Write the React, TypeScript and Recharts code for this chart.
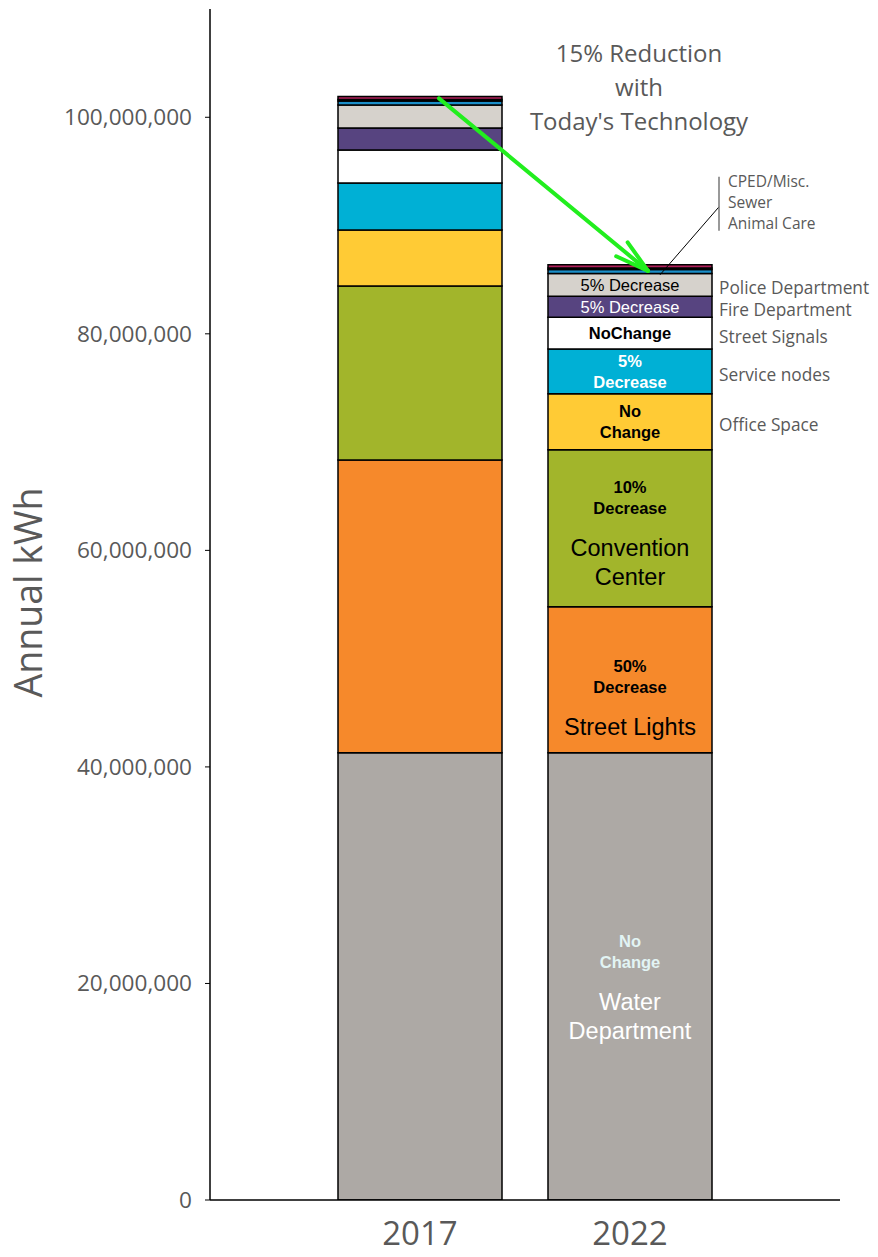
import { Bar, BarChart, Label, LabelList, ReferenceLine, XAxis, YAxis } from 'recharts';

const years = ['2017', '2022'];
const segments = [
  'Water Department',
  'Street Lights',
  'Convention Center',
  'Office Space',
  'Service nodes',
  'Street Signals',
  'Fire Department',
  'Police Department',
  'Animal Care',
  'Sewer',
  'CPED/Misc.',
];
const kwh2017 = [41300000, 27050000, 16070000, 5170000, 4340000, 3050000, 2030000, 2120000, 380000, 120000, 300000];
const kwh2022 = [41300000, 13500000, 14500000, 5170000, 4120000, 2950000, 1930000, 2100000, 380000, 120000, 300000];
const changeNotes = ['No\nChange', '50%\nDecrease', '10%\nDecrease', 'No\nChange', '5%\nDecrease', 'NoChange', '5% Decrease', '5% Decrease', '', '', ''];
const insideNames = ['Water\nDepartment', 'Street Lights', 'Convention\nCenter', '', '', '', '', '', '', '', ''];
const sideNames = ['', '', '', 'Office Space', 'Service nodes', 'Street Signals', 'Fire Department', 'Police Department', '', '', ''];
const smallGroup = ['CPED/Misc.', 'Sewer', 'Animal Care'];
const yTicks = [0, 20000000, 40000000, 60000000, 80000000, 100000000];
const titleLines = ['15% Reduction', 'with', "Today's Technology"];

const colors = ['#ADA9A5', '#F6892B', '#A2B52B', '#FFCB35', '#00B0D5', '#FFFFFF', '#574480', '#D6D2CC', '#1B8FC9', '#3C3C64', '#B0205A'];
const noteColors = ['#E2F4F4', '#000', '#000', '#000', '#FFFFFF', '#000', '#FFFFFF', '#000', '#000', '#000', '#000'];
const noteBold = [true, true, true, true, true, true, false, false, false, false, false];
const nameColors = ['#FFFFFF', '#000', '#000'];
const nameNudge = [10, 17, 4];

const GRAY = '#595959';
const SANS = "'Open Sans', 'Noto Sans', sans-serif";
const ARIAL = "'Liberation Sans', Arial, sans-serif";

const data = years.map((year, i) => {
  const row: Record<string, string | number> = { year };
  const vals = i === 0 ? kwh2017 : kwh2022;
  vals.forEach((v, j) => (row['s' + j] = v));
  return row;
});
const total2017 = kwh2017.reduce((a, b) => a + b, 0);
const total2022 = kwh2022.reduce((a, b) => a + b, 0);

function segmentLabel(j: number) {
  return (props: any) => {
    if (props.index !== 1) return null;
    const vb = props.viewBox ?? props;
    const x = vb.x;
    const width = vb.width;
    const top = Math.min(vb.y, vb.y + vb.height);
    const h = Math.abs(vb.height);
    const cx = x + width / 2;
    const cy = top + h / 2;
    const notes = changeNotes[j] ? changeNotes[j].split('\n') : [];
    const names = insideNames[j] ? insideNames[j].split('\n') : [];
    const parts: any[] = [];

    // group height: notes 21px pitch, 40px gap, names 29px pitch
    const noteSpan = notes.length ? (notes.length - 1) * 21 : 0;
    const nameSpan = names.length ? (names.length - 1) * 29 : 0;
    const groupH = noteSpan + (names.length ? 40 + nameSpan : 0);
    let yy = cy - groupH / 2 + (names.length ? nameNudge[j] : 0);
    notes.forEach((t, k) => {
      parts.push(
        <text key={'n' + k} x={cx} y={yy + k * 21} textAnchor="middle" dominantBaseline="central"
          fill={noteColors[j]} fontFamily={ARIAL} fontSize={16.5} fontWeight={noteBold[j] ? 700 : 400}>
          {t}
        </text>
      );
    });
    yy += noteSpan + 40;
    names.forEach((t, k) => {
      parts.push(
        <text key={'m' + k} x={cx} y={yy + k * 29} textAnchor="middle" dominantBaseline="central"
          fill={nameColors[j]} fontFamily={ARIAL} fontSize={23.5}>
          {t}
        </text>
      );
    });
    if (sideNames[j]) {
      parts.push(
        <text key="side" x={x + width + 7} y={cy + 3} dominantBaseline="central" fill={GRAY} fontFamily={SANS} fontSize={17.3}>
          {sideNames[j]}
        </text>
      );
    }
    if (j === segments.length - 1) {
      const lx = x + 171;
      parts.push(<line key="lead" x1={x + 112} y1={top + 10} x2={lx} y2={top - 58} stroke="#000" strokeWidth={1} />);
      parts.push(<line key="bar" x1={lx} y1={top - 88} x2={lx} y2={top - 34} stroke="#777" strokeWidth={1.5} />);
      smallGroup.forEach((t, k) => {
        parts.push(
          <text key={'g' + k} x={lx + 9} y={top - 84 + k * 21} dominantBaseline="central" fill={GRAY} fontFamily={SANS} fontSize={15.5}>
            {t}
          </text>
        );
      });
    }
    return <g>{parts}</g>;
  };
}

const Arrow = (p: any) => {
  const x1 = p.x1 + 19;
  const y1 = p.y1 + 2;
  const x2 = p.x2 + 18;
  const y2 = p.y2 + 6;
  const back = Math.atan2(y1 - y2, x1 - x2);
  const len = 35;
  const spread = 0.26;
  const h1x = x2 + len * Math.cos(back + spread);
  const h1y = y2 + len * Math.sin(back + spread);
  const h2x = x2 + len * Math.cos(back - spread);
  const h2y = y2 + len * Math.sin(back - spread);
  return (
    <g stroke="#22EE1E" strokeWidth={4} strokeLinecap="round" fill="none">
      <line x1={x1} y1={y1} x2={x2} y2={y2} />
      <line x1={h1x} y1={h1y} x2={x2} y2={y2} />
      <line x1={h2x} y1={h2y} x2={x2} y2={y2} />
    </g>
  );
};

export default function App() {
  return (
    <div style={{ position: 'absolute', left: 0, top: 0, width: 878, height: 1257, background: '#fff' }}>
      <BarChart width={878} height={1257} data={data} margin={{ top: 9, right: 38, bottom: 0, left: 0 }}>
        <XAxis
          dataKey="year"
          height={57}
          padding={{ left: 105, right: 105 }}
          axisLine={{ stroke: '#000', strokeWidth: 1.5 }}
          tickLine={false}
          tickSize={0}
          tickMargin={22}
          tick={{ fill: GRAY, fontSize: 33, fontFamily: SANS }}
        />
        <YAxis
          width={210}
          domain={[0, 110000000]}
          ticks={yTicks}
          allowDataOverflow
          tickFormatter={(v: number) => v.toLocaleString('en-US')}
          axisLine={{ stroke: '#000', strokeWidth: 1.5 }}
          tickLine={{ stroke: '#000' }}
          tickSize={5}
          tickMargin={13}
          tick={{ fill: GRAY, fontSize: 22.6, fontFamily: SANS }}
        >
          <Label
            content={(p: any) => {
              const vb = p.viewBox;
              const cy = vb.y + vb.height / 2 - 12;
              const cx = 27;
              return (
                <text x={cx} y={cy} transform={`rotate(-90 ${cx} ${cy})`} textAnchor="middle" dominantBaseline="central"
                  fill={GRAY} fontFamily={SANS} fontSize={37.5}>
                  Annual kWh
                </text>
              );
            }}
          />
        </YAxis>
        {segments.map((name, j) => (
          <Bar key={name} dataKey={'s' + j} name={name} stackId="a" fill={colors[j]} stroke="#000" strokeWidth={1.5}
            barSize={164} isAnimationActive={false}>
            <LabelList dataKey={'s' + j} content={segmentLabel(j)} />
          </Bar>
        ))}
        <ReferenceLine
          segment={[{ x: '2017', y: total2017 }, { x: '2022', y: total2022 }]}
          shape={Arrow}
          ifOverflow="visible"
        />
      </BarChart>
      <div style={{ position: 'absolute', left: 490, top: 36, width: 298, textAlign: 'center', color: GRAY, fontFamily: SANS, fontSize: 24, lineHeight: '34px' }}>
        {titleLines.map((t) => (
          <div key={t}>{t}</div>
        ))}
      </div>
    </div>
  );
}
